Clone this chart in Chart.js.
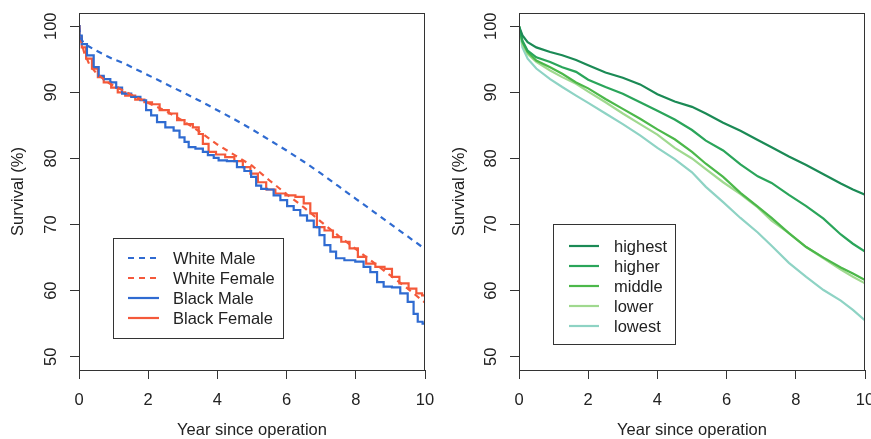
<!DOCTYPE html>
<html>
<head>
<meta charset="utf-8">
<script src="https://cdn.jsdelivr.net/npm/chart.js@4.4.0/dist/chart.umd.min.js"></script>
<style>
  html, body { margin: 0; padding: 0; background: #fff; overflow: hidden; width: 871px; height: 439px; }
  #left { position: absolute; left: 0; top: 0; }
  #right { position: absolute; left: 436px; top: 0; }
</style>
</head>
<body>
<canvas id="left" width="436" height="439"></canvas>
<canvas id="right" width="445" height="439"></canvas>
<script>
// axis ticks
const xTicks = [0, 2, 4, 6, 8, 10];
const yTicks = [50, 60, 70, 80, 90, 100];

// left panel: race / sex
const whiteYears = [0, 0.05, 0.15, 0.3, 0.5, 0.8, 1, 1.3, 1.6, 2, 2.5, 3, 3.5, 4, 4.5, 5, 5.5, 6, 6.5, 7, 7.5, 8, 8.5, 9, 9.5, 10];
const whiteMale = [100, 98.2, 97.3, 96.9, 96.3, 95.5, 95.0, 94.4, 93.6, 92.6, 91.3, 90.0, 88.7, 87.3, 85.9, 84.4, 82.8, 81.2, 79.5, 77.7, 75.8, 73.9, 72.0, 70.1, 68.2, 66.3];
const whiteFemale = [100, 98.0, 96.0, 94.2, 92.9, 91.6, 91.0, 90.2, 89.4, 88.4, 87.2, 85.7, 84.0, 82.1, 80.5, 78.9, 76.7, 74.6, 72.6, 70.4, 68.3, 66.3, 64.3, 62.3, 60.3, 58.2];

const blackMaleYears = [0, 0.03, 0.13, 0.33, 0.52, 0.62, 0.81, 1.0, 1.15, 1.34, 1.68, 1.87, 2.01, 2.16, 2.35, 2.64, 2.83, 2.98, 3.12, 3.22, 3.51, 3.65, 3.8, 3.99, 4.08, 4.47, 4.66, 4.9, 5.05, 5.19, 5.34, 5.53, 5.72, 5.92, 6.11, 6.3, 6.49, 6.69, 6.88, 7.02, 7.17, 7.36, 7.5, 7.84, 8.13, 8.32, 8.52, 8.71, 8.9, 9.19, 9.38, 9.62, 9.72, 9.86, 10];
const blackMale = [100, 98.6, 97.3, 95.6, 93.8, 92.5, 92.0, 91.5, 90.7, 89.8, 89.3, 88.8, 87.3, 86.5, 85.5, 84.7, 84.2, 83.2, 82.5, 81.7, 81.5, 81.0, 80.5, 80.1, 79.7, 79.6, 78.7, 78.1, 77.2, 75.9, 75.4, 75.3, 74.4, 73.7, 72.8, 72.2, 71.4, 70.6, 69.6, 68.4, 66.9, 65.9, 64.9, 64.6, 64.4, 63.6, 62.8, 61.3, 60.6, 60.5, 59.6, 58.3, 56.5, 55.3, 55.0];

const blackFemaleYears = [0, 0.03, 0.13, 0.28, 0.47, 0.62, 0.81, 1.05, 1.19, 1.48, 1.77, 2.01, 2.21, 2.45, 2.74, 2.93, 3.17, 3.41, 3.51, 3.65, 3.84, 4.08, 4.37, 4.61, 4.86, 5.05, 5.29, 5.53, 5.82, 6.11, 6.4, 6.59, 6.78, 6.97, 7.22, 7.46, 7.7, 7.94, 8.18, 8.42, 8.71, 8.95, 9.14, 9.38, 9.67, 9.83, 10];
const blackFemale = [100, 98.4, 96.8, 95.1, 93.6, 92.3, 91.5, 90.7, 90.0, 89.5, 88.9, 88.5, 88.2, 87.3, 86.8, 85.8, 85.2, 84.7, 83.7, 82.2, 81.0, 80.6, 80.2, 79.6, 78.7, 77.7, 76.4, 75.3, 74.7, 74.4, 74.2, 73.2, 71.7, 69.6, 69.1, 68.1, 67.4, 66.4, 65.1, 64.1, 63.6, 63.3, 62.1, 61.1, 60.3, 59.6, 59.3];

// right panel: groups
const groupYears = [0, 0.1, 0.25, 0.5, 0.9, 1.25, 1.65, 2, 2.5, 3, 3.5, 4, 4.5, 5, 5.4, 5.9, 6.4, 6.9, 7.3, 7.8, 8.3, 8.8, 9.3, 9.65, 10];
const highest = [100, 98.6, 97.6, 96.8, 96.1, 95.6, 94.9, 94.1, 93.0, 92.2, 91.2, 89.7, 88.6, 87.8, 86.8, 85.4, 84.2, 82.8, 81.7, 80.3, 79.0, 77.6, 76.2, 75.3, 74.5];
const higher = [100, 97.8, 96.3, 95.3, 94.6, 93.8, 93.1, 91.9, 90.8, 89.8, 88.5, 87.2, 85.9, 84.3, 82.7, 81.2, 79.1, 77.3, 76.3, 74.5, 72.8, 70.9, 68.5, 67.1, 65.9];
const middle = [100, 97.6, 96.1, 94.8, 93.8, 92.8, 91.5, 90.6, 89.0, 87.5, 86.0, 84.4, 82.9, 81.0, 79.2, 77.2, 74.8, 72.7, 71.0, 68.7, 66.6, 65.0, 63.5, 62.6, 61.6];
const lower = [100, 97.3, 95.8, 94.6, 93.3, 92.3, 91.3, 90.1, 88.5, 86.8, 85.2, 83.6, 81.6, 80.0, 78.4, 76.4, 74.6, 72.6, 70.6, 68.7, 66.6, 64.9, 63.2, 62.1, 61.1];
const lowest = [100, 96.8, 95.1, 93.6, 92.0, 90.8, 89.5, 88.4, 86.8, 85.2, 83.5, 81.6, 79.9, 77.9, 75.7, 73.4, 71.0, 68.8, 66.8, 64.2, 62.1, 60.1, 58.5, 57.1, 55.5];

const FONT = "'Liberation Sans', Arial, Helvetica, sans-serif";
const TEXT = '#222';
const AXIS = '#333';
Chart.defaults.font.family = FONT;
Chart.defaults.font.size = 16.5;

let points = (xs, ys) => xs.map((x, i) => ({ x: x, y: ys[i] }));

// the label padding Chart.js reserves would shrink the plot; the layout padding already covers it
let noLabelPadding = (s) => {
    s.paddingLeft = 0;
    s.paddingRight = 0;
    s.paddingTop = 0;
    s.paddingBottom = 0;
};

// box round the plot and a legend inside it (R style)
const frameAndLegend = {
    id: 'frameAndLegend',
    afterDatasetsDraw(chart, args, opts) {
        const ctx = chart.ctx, a = chart.chartArea;
        ctx.save();
        ctx.strokeStyle = AXIS;
        ctx.lineWidth = 1;
        ctx.strokeRect(a.left + 0.5, a.top + 0.5, a.right - a.left - 1, a.bottom - a.top);

        const bx = a.left + opts.x, by = a.top + opts.y;
        ctx.fillStyle = '#fff';
        ctx.fillRect(bx, by, opts.w, opts.h);
        ctx.strokeRect(bx + 0.5, by + 0.5, opts.w, opts.h);
        ctx.font = '16.5px ' + FONT;
        ctx.textBaseline = 'middle';
        ctx.textAlign = 'left';
        chart.data.datasets.forEach((ds, i) => {
            const y = by + opts.first + i * opts.row;
            ctx.strokeStyle = ds.borderColor;
            ctx.lineWidth = ds.borderWidth;
            ctx.setLineDash(ds.borderDash || []);
            ctx.beginPath();
            ctx.moveTo(bx + opts.lineFrom, y);
            ctx.lineTo(bx + opts.lineTo, y);
            ctx.stroke();
            ctx.setLineDash([]);
            ctx.fillStyle = TEXT;
            ctx.fillText(ds.label, bx + opts.text, y + 1);
        });
        ctx.restore();
    }
};

let makePanel = (canvasId, datasets, yWidth, yTitlePad, rightPad, legend) => {
    let context = document.getElementById(canvasId).getContext('2d');
    return new Chart(context, {
        type: 'line',
        data: { datasets: datasets },
        options: {
            responsive: false,
            animation: false,
            layout: { padding: { top: 13, right: rightPad, left: 0, bottom: 0 } },
            elements: { point: { radius: 0 }, line: { tension: 0 } },
            plugins: {
                legend: { display: false },
                tooltip: { enabled: false },
                frameAndLegend: legend
            },
            scales: {
                x: {
                    type: 'linear',
                    min: 0,
                    max: 10,
                    afterBuildTicks: (s) => { s.ticks = xTicks.map(v => ({ value: v })); },
                    afterFit: (s) => { s.height = 69; noLabelPadding(s); },
                    grid: { drawOnChartArea: false, tickLength: 9, color: AXIS },
                    border: { color: AXIS },
                    ticks: { padding: 12, maxRotation: 0, autoSkip: false, color: TEXT },
                    title: {
                        display: true, text: 'Year since operation', color: TEXT,
                        font: { size: 16.5, lineHeight: 1 }, padding: { top: 0, bottom: 0 }
                    }
                },
                y: {
                    type: 'linear',
                    min: 48,
                    max: 102,
                    afterBuildTicks: (s) => { s.ticks = yTicks.map(v => ({ value: v })); },
                    afterFit: (s) => { s.width = yWidth; noLabelPadding(s); },
                    grid: { drawOnChartArea: false, tickLength: 9, color: AXIS },
                    border: { color: AXIS },
                    ticks: { minRotation: 90, maxRotation: 90, crossAlign: 'center', padding: 5, autoSkip: false, color: TEXT },
                    title: {
                        display: true, text: 'Survival (%)', color: TEXT,
                        font: { size: 16.5 }, padding: { top: yTitlePad, bottom: 0 }
                    }
                }
            }
        },
        plugins: [frameAndLegend]
    });
};

const BLUE = '#2f6bd1';
const RED = '#f4593a';

makePanel('left', [
    { label: 'White Male', data: points(whiteYears, whiteMale), borderColor: BLUE, borderWidth: 2.2, borderDash: [6, 5] },
    { label: 'White Female', data: points(whiteYears, whiteFemale), borderColor: RED, borderWidth: 2.2, borderDash: [6, 5] },
    { label: 'Black Male', data: points(blackMaleYears, blackMale), borderColor: BLUE, borderWidth: 2.2, stepped: 'middle' },
    { label: 'Black Female', data: points(blackFemaleYears, blackFemale), borderColor: RED, borderWidth: 2.2, stepped: 'middle' }
], 79, 9, 11, { x: 34, y: 225, w: 170, h: 100, first: 20, row: 20, lineFrom: 15, lineTo: 46, text: 60 });

makePanel('right', [
    { label: 'highest', data: points(groupYears, highest), borderColor: '#1b8a55', borderWidth: 2.2 },
    { label: 'higher', data: points(groupYears, higher), borderColor: '#2aa55a', borderWidth: 2.2 },
    { label: 'middle', data: points(groupYears, middle), borderColor: '#4cb84a', borderWidth: 2.2 },
    { label: 'lower', data: points(groupYears, lower), borderColor: '#a0d98f', borderWidth: 2.2 },
    { label: 'lowest', data: points(groupYears, lowest), borderColor: '#8ed3c4', borderWidth: 2.2 }
], 83, 14, 16, { x: 34, y: 211, w: 122, h: 120, first: 22, row: 20, lineFrom: 16, lineTo: 46, text: 61 });
</script>
</body>
</html>
